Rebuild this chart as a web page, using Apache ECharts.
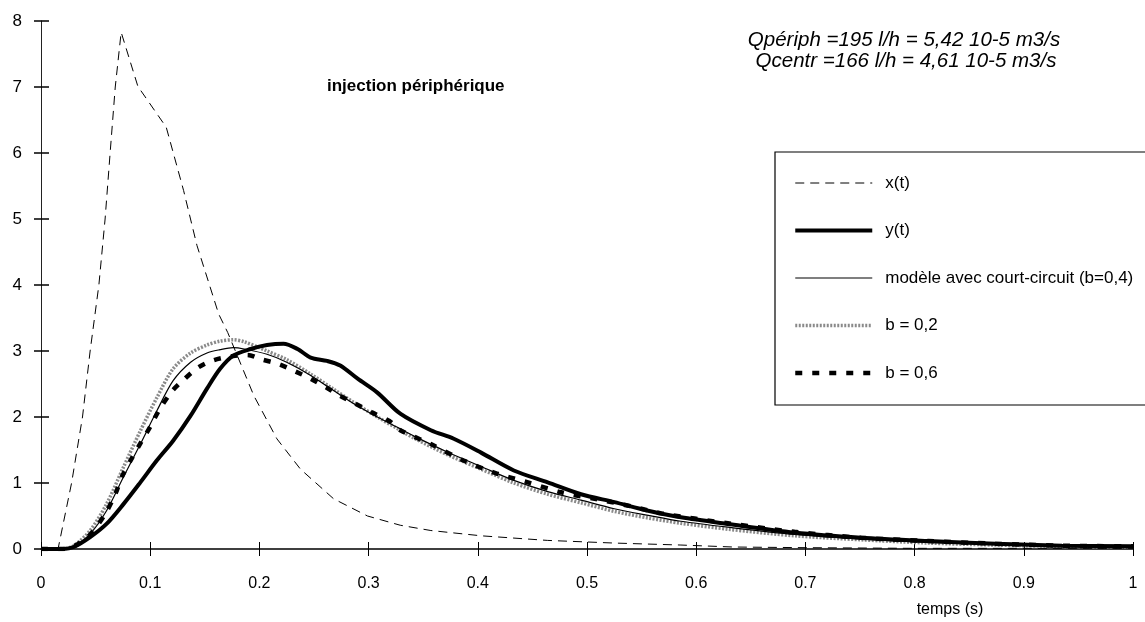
<!DOCTYPE html>
<html>
<head>
<meta charset="utf-8">
<script src="https://cdn.jsdelivr.net/npm/echarts@6/dist/echarts.min.js"></script>
<style>
html,body{margin:0;padding:0;background:#fff;}
#chart{width:1145px;height:622px;}
</style>
</head>
<body>
<div id="chart"></div>
<script>
// ---- data ----
const xTicks = [0, 0.1, 0.2, 0.3, 0.4, 0.5, 0.6, 0.7, 0.8, 0.9, 1];
const yTicks = [0, 1, 2, 3, 4, 5, 6, 7, 8];

const seriesNames = ['x(t)', 'y(t)', 'modèle avec court-circuit (b=0,4)', 'b = 0,2', 'b = 0,6'];

// x(t) : injected signal
const tX = [0, 0.0156, 0.028, 0.038, 0.045, 0.053, 0.0587, 0.0633, 0.068, 0.0734, 0.0887, 0.1147, 0.1306, 0.1428, 0.1627, 0.171, 0.195, 0.216, 0.2376, 0.268, 0.299, 0.329, 0.357, 0.403, 0.464, 0.525, 0.586, 0.634, 0.7, 0.8, 0.9, 1.0];
const vX = [0, 0, 1, 2, 3, 4, 5, 6, 7, 7.83, 7.01, 6.39, 5.43, 4.6, 3.56, 3.28, 2.32, 1.67, 1.21, 0.76, 0.5, 0.36, 0.28, 0.2, 0.13, 0.09, 0.06, 0.03, 0.02, 0.01, 0.01, 0.01];

// y(t) : measured response
const tY = [0, 0.02, 0.03, 0.045, 0.06, 0.0755, 0.091, 0.106, 0.121, 0.137, 0.152, 0.164, 0.176, 0.192, 0.207, 0.222, 0.235, 0.247, 0.262, 0.274, 0.29, 0.308, 0.329, 0.357, 0.378, 0.403, 0.433, 0.464, 0.4945, 0.525, 0.556, 0.586, 0.629, 0.69, 0.751, 0.8125, 0.874, 0.935, 1.0];
const vY = [0, 0, 0.03, 0.18, 0.38, 0.68, 1.01, 1.34, 1.64, 2.02, 2.43, 2.73, 2.93, 3.03, 3.09, 3.11, 3.03, 2.9, 2.85, 2.78, 2.58, 2.37, 2.05, 1.8, 1.67, 1.46, 1.19, 1.01, 0.83, 0.71, 0.58, 0.48, 0.38, 0.25, 0.17, 0.12, 0.08, 0.05, 0.04];

// model b = 0,4 and the b = 0,2 variant share the same time points
const tM = [0, 0.02, 0.03, 0.045, 0.06, 0.0755, 0.091, 0.106, 0.121, 0.137, 0.152, 0.164, 0.176, 0.186, 0.207, 0.225, 0.247, 0.268, 0.2865, 0.308, 0.329, 0.3416, 0.372, 0.403, 0.433, 0.464, 0.4945, 0.525, 0.556, 0.586, 0.629, 0.69, 0.751, 0.8125, 0.874, 0.935, 1.0];
const vM = [0, 0, 0.04, 0.23, 0.58, 1.09, 1.59, 2.09, 2.55, 2.83, 2.97, 3.02, 3.05, 3.03, 2.95, 2.83, 2.63, 2.4, 2.2, 2.0, 1.82, 1.71, 1.47, 1.25, 1.04, 0.87, 0.74, 0.61, 0.51, 0.42, 0.33, 0.22, 0.15, 0.1, 0.07, 0.05, 0.03];
const vB2 = [0, 0, 0.05, 0.28, 0.68, 1.24, 1.79, 2.29, 2.73, 2.97, 3.09, 3.15, 3.17, 3.14, 3.0, 2.87, 2.65, 2.42, 2.22, 2.0, 1.8, 1.68, 1.43, 1.21, 1.0, 0.83, 0.7, 0.57, 0.47, 0.39, 0.3, 0.2, 0.14, 0.09, 0.06, 0.04, 0.03];

// b = 0,6
const tB6 = [0, 0.02, 0.03, 0.045, 0.0587, 0.068, 0.074, 0.083, 0.091, 0.1, 0.108, 0.12, 0.131, 0.144, 0.158, 0.175, 0.189, 0.2025, 0.218, 0.233, 0.247, 0.261, 0.274, 0.288, 0.303, 0.319, 0.329, 0.357, 0.387, 0.418, 0.446, 0.476, 0.507, 0.537, 0.568, 0.629, 0.69, 0.751, 0.8125, 0.874, 0.935, 1.0];
const vB6 = [0, 0, 0.04, 0.22, 0.53, 0.83, 1.09, 1.37, 1.6, 1.85, 2.1, 2.39, 2.57, 2.75, 2.86, 2.92, 2.94, 2.87, 2.8, 2.69, 2.58, 2.45, 2.32, 2.2, 2.07, 1.94, 1.8, 1.59, 1.34, 1.14, 1.01, 0.86, 0.76, 0.66, 0.54, 0.39, 0.26, 0.17, 0.12, 0.08, 0.05, 0.04];

const titleText = 'injection périphérique';
const noteLines = ['Qpériph =195 l/h = 5,42 10-5 m3/s', 'Qcentr =166 l/h = 4,61 10-5 m3/s'];
const xAxisName = 'temps (s)';

// ---- chart ----
const zip = (t, v) => t.map((x, i) => [x, v[i]]);
const SANS = "'Liberation Sans',Arial,sans-serif";

const chart = echarts.init(document.getElementById('chart'), null, {renderer: 'canvas'});

const baseX = {type: 'value', min: 0, max: 1, interval: 0.1, splitLine: {show: false}};
const baseY = {type: 'value', min: 0, max: 8, interval: 1, splitLine: {show: false}};

const styles = {
  'x(t)':  {color: '#000', width: 1, type: [9, 6]},
  'y(t)':  {color: '#000', width: 4, type: 'solid'},
  'modèle avec court-circuit (b=0,4)': {color: '#000', width: 1.2, type: 'solid'},
  'b = 0,2': {color: '#8a8a8a', width: 3.5, type: [2, 1.5]},
  'b = 0,6': {color: '#000', width: 4.5, type: [7, 10]}
};

chart.setOption({
  animation: false,
  backgroundColor: '#fff',
  color: ['#000'],
  grid: {left: 41, right: 12, top: 21, bottom: 73, containLabel: false},
  xAxis: [
    Object.assign({}, baseX, {
      axisLine: {show: true, onZero: false, lineStyle: {color: '#000', width: 1.5}},
      axisTick: {show: true, inside: false, length: 7, lineStyle: {color: '#000'}},
      axisLabel: {show: true, margin: 27, color: '#000', fontFamily: SANS, fontSize: 16,
                  formatter: v => String(v)}
    }),
    Object.assign({}, baseX, {
      position: 'bottom',
      axisLine: {show: false},
      axisTick: {show: true, inside: true, length: 7, lineStyle: {color: '#000'}},
      axisLabel: {show: false}
    })
  ],
  yAxis: [
    Object.assign({}, baseY, {
      axisLine: {show: true, onZero: false, lineStyle: {color: '#222', width: 1}},
      axisTick: {show: true, inside: false, length: 7, lineStyle: {color: '#000', width: 1.5}},
      axisLabel: {show: true, margin: 19, color: '#000', fontFamily: SANS, fontSize: 17}
    }),
    Object.assign({}, baseY, {
      position: 'left',
      axisLine: {show: false},
      axisTick: {show: true, inside: true, length: 8, lineStyle: {color: '#000', width: 1.5}},
      axisLabel: {show: false}
    })
  ],
  legend: {
    orient: 'vertical',
    left: 793, top: 173,
    padding: 0,
    itemWidth: 77, itemHeight: 14, itemGap: 27.5,
    data: seriesNames.map(n => ({name: n, lineStyle: {width: styles[n].width, type: styles[n].type, color: styles[n].color}})),
    itemStyle: {opacity: 0},
    textStyle: {color: '#000', fontFamily: SANS, fontSize: 17, lineHeight: 20, padding: [0, 0, 0, 8]},
    selectedMode: false
  },
  graphic: [
    {type: 'rect', shape: {x: 775, y: 152, width: 372, height: 253},
     style: {fill: 'none', stroke: '#000', lineWidth: 1.2}, z: 0},
    {type: 'text', left: 327, top: 78,
     style: {text: titleText, font: "bold 17px " + SANS, fill: '#000'}},
    {type: 'text', x: 904, y: 40,
     style: {text: noteLines[0], font: "italic 20.5px " + SANS, fill: '#000', textAlign: 'center', textVerticalAlign: 'middle'}},
    {type: 'text', x: 906, y: 61,
     style: {text: noteLines[1], font: "italic 20.5px " + SANS, fill: '#000', textAlign: 'center', textVerticalAlign: 'middle'}},
    {type: 'text', x: 950, y: 610,
     style: {text: xAxisName, font: "16px " + SANS, fill: '#000', textAlign: 'center', textVerticalAlign: 'middle'}}
  ],
  series: [
    {name: seriesNames[3], type: 'line', data: zip(tM, vB2), symbol: 'none', smooth: 0.3, z: 2,
     itemStyle: {color: styles[seriesNames[3]].color}, lineStyle: styles[seriesNames[3]]},
    {name: seriesNames[2], type: 'line', data: zip(tM, vM), symbol: 'none', smooth: 0.3, z: 3,
     itemStyle: {color: '#000'}, lineStyle: styles[seriesNames[2]]},
    {name: seriesNames[4], type: 'line', data: zip(tB6, vB6), symbol: 'none', smooth: 0.3, z: 4,
     itemStyle: {color: '#000'}, lineStyle: styles[seriesNames[4]]},
    {name: seriesNames[0], type: 'line', data: zip(tX, vX), symbol: 'none', smooth: false, z: 5,
     itemStyle: {color: '#000'}, lineStyle: styles[seriesNames[0]]},
    {name: seriesNames[1], type: 'line', data: zip(tY, vY), symbol: 'none', smooth: 0.3, z: 6,
     itemStyle: {color: '#000'}, lineStyle: styles[seriesNames[1]]}
  ]
});
</script>
</body>
</html>
